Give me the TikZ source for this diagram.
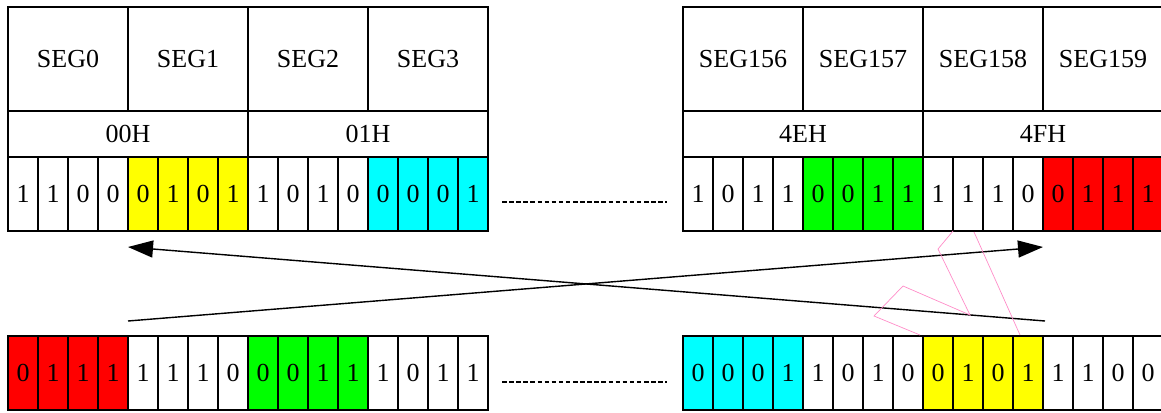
\documentclass[tikz,border=0pt]{standalone}
\usepackage{fontspec}
\setmainfont{Liberation Serif}
\usetikzlibrary{arrows.meta}
\definecolor{cyel}{RGB}{255,255,0}
\definecolor{ccya}{RGB}{0,255,255}
\definecolor{cgrn}{RGB}{0,255,0}
\definecolor{cred}{RGB}{255,0,0}
\definecolor{cpink}{RGB}{255,140,200}
\begin{document}
\begin{tikzpicture}[x=1pt,y=-1pt,
  cellbox/.style={draw, line width=1.3pt, inner sep=0pt, font=\fontsize{26}{30}\selectfont},
  segbox/.style={cellbox, minimum width=120pt, minimum height=104pt},
  hexbox/.style={cellbox, minimum width=240pt, minimum height=46pt},
  bitbox/.style={cellbox, minimum width=30pt, minimum height=74pt},
  dotline/.style={line width=1.2pt, dash pattern=on 4.5pt off 2.6pt},
  arrowline/.style={line width=1.4pt, -{Triangle[length=25pt,width=17pt]}},
  pinkline/.style={cpink, line width=0.7pt}]
\useasboundingbox (0,0) rectangle (1161,412);
% top-left block
\foreach \s [count=\i from 0] in {SEG0,SEG1,SEG2,SEG3}
  \node[segbox] (tlseg\i) at ({68+120*\i},59) {\s};
\foreach \h [count=\i from 0] in {00H,01H}
  \node[hexbox] (tlhex\i) at ({128+240*\i},134) {\h};
\foreach \b/\c [count=\i from 0] in {1/white,1/white,0/white,0/white,0/cyel,1/cyel,0/cyel,1/cyel,1/white,0/white,1/white,0/white,0/ccya,0/ccya,0/ccya,1/ccya}
  \node[bitbox, fill=\c] (tlbit\i) at ({23+30*\i},194) {\b};
% top-right block
\foreach \s [count=\i from 0] in {SEG156,SEG157,SEG158,SEG159}
  \node[segbox] (trseg\i) at ({743+120*\i},59) {\s};
\foreach \h [count=\i from 0] in {4EH,4FH}
  \node[hexbox] (trhex\i) at ({803+240*\i},134) {\h};
\foreach \b/\c [count=\i from 0] in {1/white,0/white,1/white,1/white,0/cgrn,0/cgrn,1/cgrn,1/cgrn,1/white,1/white,1/white,0/white,0/cred,1/cred,1/cred,1/cred}
  \node[bitbox, fill=\c] (trbit\i) at ({698+30*\i},194) {\b};
% bottom-left block
\foreach \b/\c [count=\i from 0] in {0/cred,1/cred,1/cred,1/cred,1/white,1/white,1/white,0/white,0/cgrn,0/cgrn,1/cgrn,1/cgrn,1/white,0/white,1/white,1/white}
  \node[bitbox, fill=\c] (blbit\i) at ({23+30*\i},373) {\b};
% bottom-right block
\foreach \b/\c [count=\i from 0] in {0/ccya,0/ccya,0/ccya,1/ccya,1/white,0/white,1/white,0/white,0/cyel,1/cyel,0/cyel,1/cyel,1/white,1/white,0/white,0/white}
  \node[bitbox, fill=\c] (brbit\i) at ({698+30*\i},373) {\b};
% dotted separators
\coordinate (dt1) at (502,202); \coordinate (dt2) at (667,202);
\coordinate (db1) at (502,382); \coordinate (db2) at (667,382);
\draw[dotline] (dt1) -- (dt2);
\draw[dotline] (db1) -- (db2);
% crossing arrows
\coordinate (a1s) at (1045,321); \coordinate (a1e) at (128,247);
\coordinate (a2s) at (128,321); \coordinate (a2e) at (1043,247);
\draw[arrowline] (a1s) -- (a1e);
\draw[arrowline] (a2s) -- (a2e);
% pink strokes
\draw[pinkline] (953,231) -- (938,249) -- (970,315) -- (903,286) -- (874,316) -- (920,335);
\draw[pinkline] (974,232) -- (1020,335);
\end{tikzpicture}
\end{document}
